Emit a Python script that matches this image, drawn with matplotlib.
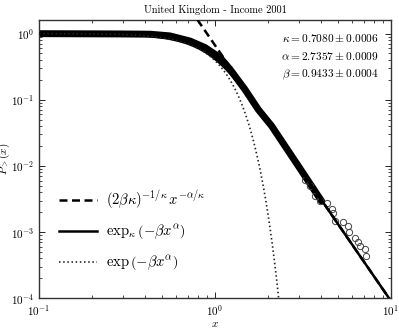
import numpy as np
import matplotlib
matplotlib.use("Agg")
import matplotlib.pyplot as plt

plt.rcParams['mathtext.fontset'] = 'cm'
plt.rcParams['font.family'] = 'serif'
plt.rcParams['font.serif'] = ['cmr10', 'DejaVu Serif']
plt.rcParams['axes.formatter.use_mathtext'] = True
plt.rcParams['axes.unicode_minus'] = False

# fitted parameters (shown on chart)
kappa = 0.7080
alpha = 2.7357
beta = 0.9433
param_labels = [r'$\kappa = 0.7080 \pm 0.0006$',
                r'$\alpha = 2.7357 \pm 0.0009$',
                r'$\beta = 0.9433 \pm 0.0004$']

band_x = [0.100, 0.171, 0.288, 0.428, 0.555, 0.721, 0.877, 1.067, 1.217,
          1.479, 1.762, 2.099, 2.50, 2.98, 3.55, 4.04]
band_y = [0.995, 0.99, 0.985, 0.976, 0.92, 0.77, 0.614, 0.433, 0.288,
          0.143, 0.071, 0.040, 0.0199, 0.0099, 0.0049, 0.00292]

tail_x = [3.24, 3.47, 3.70, 3.95, 4.35, 4.60, 4.66, 4.81, 5.36, 5.67, 5.79,
          6.24, 6.52, 6.66, 7.11, 7.21]
tail_y = [0.0062, 0.00491, 0.00346, 0.00291, 0.00275, 0.00223, 0.00194,
          0.00145, 0.00140, 0.00122, 0.00102, 0.00081, 0.00072, 0.00062,
          0.00055, 0.00043]

legend_labels = [r'$(2\beta\kappa)^{-1/\kappa}\,x^{-\alpha/\kappa}$',
                 r'$\exp_\kappa\left(-\beta x^\alpha\right)$',
                 r'$\exp\left(-\beta x^\alpha\right)$']


def exp_kappa(u, k):
    return (np.sqrt(1 + k**2 * u**2) + k * u) ** (1.0 / k)


fig = plt.figure(figsize=(3.99, 3.28), dpi=100)
ax = fig.add_axes([39/399, 1 - 298.3/328, 352/399, 278.3/328])

xs = np.logspace(-1, 1, 600)

# data
ax.plot(band_x, band_y, color='black', lw=5.0, solid_capstyle='round', zorder=2)
ax.plot(tail_x, tail_y, 'o', mfc='none', mec='#444444', ms=4.5, mew=0.7, zorder=2)

# models
l1, = ax.plot(xs, (2*beta*kappa)**(-1/kappa) * xs**(-alpha/kappa), color='black',
              lw=1.8, ls=(0, (3.2, 1.8)), zorder=3)
l2, = ax.plot(xs, exp_kappa(-beta * xs**alpha, kappa), color='black', lw=1.8, zorder=3)
l3, = ax.plot(xs, np.exp(-beta * xs**alpha), color='#222222', lw=1.2,
              ls=(0, (0.9, 1.6)), zorder=3)

ax.set_xscale('log')
ax.set_yscale('log')
ax.set_xlim(0.1, 10)
ax.set_ylim(1e-4, 1.6)

ax.tick_params(which='both', direction='in', top=True, right=True, labelsize=8)
ax.tick_params(which='major', length=4, width=0.6)
ax.tick_params(which='minor', length=2, width=0.5)
for s in ax.spines.values():
    s.set_linewidth(1.0)
    s.set_color('#333333')

ax.set_title('United Kingdom - Income 2001', fontsize=7.5, pad=5)
ax.set_xlabel(r'$x$', fontsize=8)
ax.set_ylabel(r'$P_>(x)$', fontsize=8)
ax.xaxis.set_label_coords(0.5, -0.075)
ax.yaxis.set_label_coords(-0.078, 0.5)

for i, t in enumerate(param_labels):
    ax.text(0.966, 0.936 - i*0.067, t, transform=ax.transAxes, ha='right',
            va='center', fontsize=8.2)

ax.legend([l1, l2, l3], legend_labels, loc='lower left',
          bbox_to_anchor=(0.02, 0.045), frameon=False, fontsize=10.5,
          handlelength=2.6, labelspacing=0.78, handletextpad=0.6)

fig.savefig('out.png', dpi=100)
